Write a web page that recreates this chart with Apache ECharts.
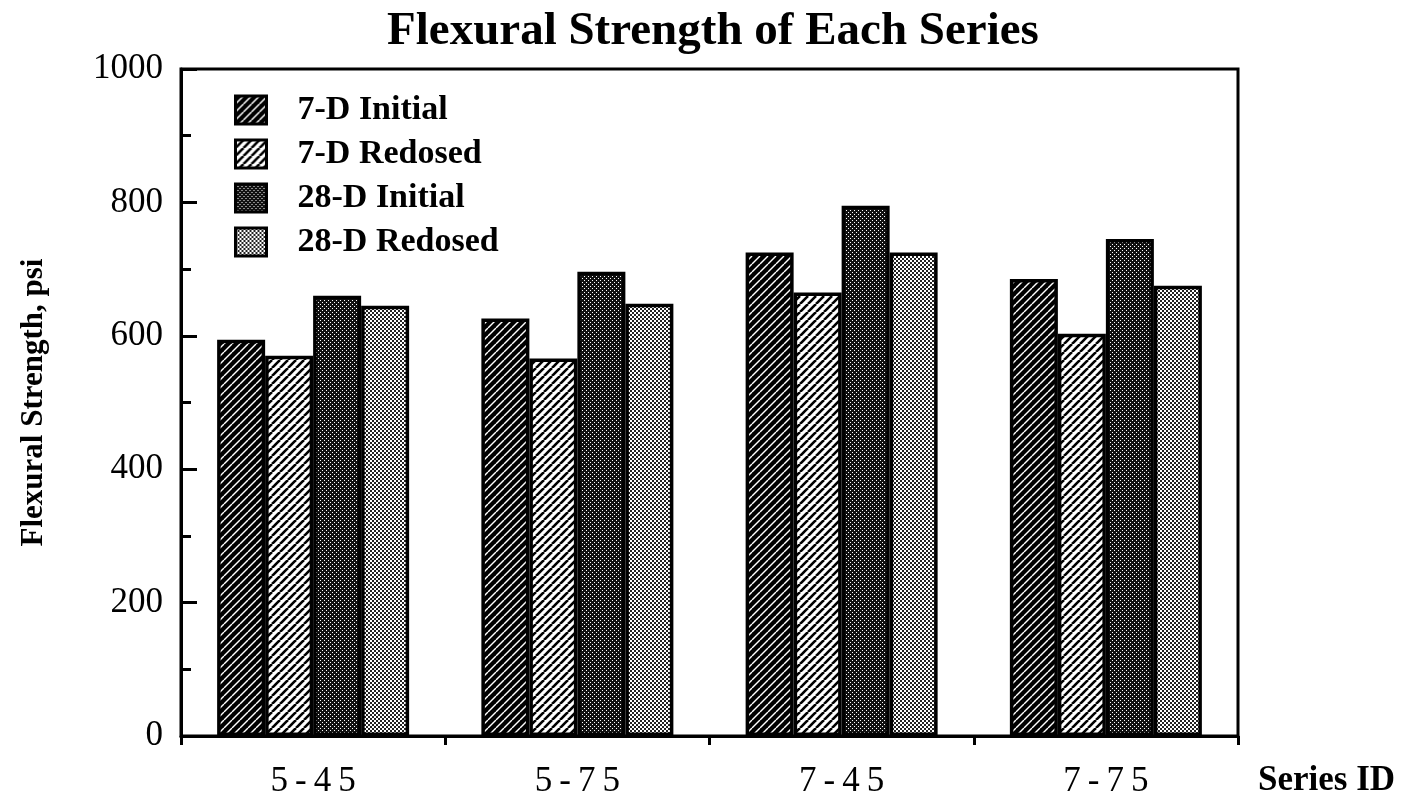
<!DOCTYPE html>
<html>
<head>
<meta charset="utf-8">
<script src="https://cdn.jsdelivr.net/npm/echarts@6/dist/echarts.min.js"></script>
<style>
  html, body { margin: 0; padding: 0; background: #fff; }
  #flexural-chart { width: 1405px; height: 799px; }
</style>
</head>
<body>
<div id="flexural-chart"></div>
<script>
// data
const categories = ['5-45', '5-75', '7-45', '7-75'];
const seriesNames = ['7-D Initial', '7-D Redosed', '28-D Initial', '28-D Redosed'];
const initial7 = [594, 626, 725, 685];
const redosed7 = [570, 566, 665, 603];
const initial28 = [660, 696, 795, 745];
const redosed28 = [645, 648, 725, 675];
const yTicks = [0, 200, 400, 600, 800, 1000];

const FONT = '"Liberation Serif", "DejaVu Serif", serif';

// hatch / halftone fills like the old print
function makeTile(size, draw) {
  const c = document.createElement('canvas');
  c.width = size;
  c.height = size;
  draw(c.getContext('2d'), size);
  return { image: c, repeat: 'repeat' };
}

function hatch(bg, fg, lw) {
  return makeTile(8, (ctx, s) => {
    ctx.fillStyle = bg;
    ctx.fillRect(0, 0, s, s);
    ctx.strokeStyle = fg;
    ctx.lineWidth = lw;
    for (let k = -1; k <= 1; k++) {
      ctx.beginPath();
      ctx.moveTo(k * s, s);
      ctx.lineTo(k * s + s, 0);
      ctx.stroke();
    }
  });
}

const fills = [
  hatch('#000', '#fff', 1.4),
  hatch('#fff', '#000', 2.6),
  makeTile(4, (ctx, s) => {
    ctx.fillStyle = '#111';
    ctx.fillRect(0, 0, s, s);
    ctx.fillStyle = '#fff';
    ctx.fillRect(0, 0, 1, 1);
    ctx.fillRect(2, 2, 1, 1);
  }),
  makeTile(4, (ctx, s) => {
    ctx.fillStyle = '#fff';
    ctx.fillRect(0, 0, s, s);
    ctx.fillStyle = '#222';
    ctx.fillRect(0, 0, 2, 2);
    ctx.fillRect(2, 2, 2, 2);
  })
];

const values = [initial7, redosed7, initial28, redosed28];

const chart = echarts.init(document.getElementById('flexural-chart'), null, { renderer: 'canvas' });

const option = {
  backgroundColor: '#fff',
  animation: false,
  title: {
    text: 'Flexural Strength of Each Series',
    left: 382,
    top: 3,
    textStyle: { fontFamily: FONT, fontWeight: 'bold', fontSize: 47, color: '#000' }
  },
  legend: {
    orient: 'vertical',
    left: 229,
    top: 88,
    itemWidth: 31,
    itemHeight: 28,
    itemGap: 10,
    icon: 'rect',
    data: seriesNames,
    itemStyle: { borderColor: '#000', borderWidth: 3 },
    textStyle: {
      fontFamily: FONT, fontWeight: 'bold', fontSize: 34, color: '#000',
      padding: [0, 0, 0, 26]
    }
  },
  grid: {
    left: 181,
    right: 167,
    top: 69,
    bottom: 63,
    show: true,
    borderColor: '#000',
    borderWidth: 3,
    containLabel: false
  },
  xAxis: {
    type: 'category',
    data: categories,
    name: 'Series ID',
    nameLocation: 'end',
    nameGap: 20,
    nameTextStyle: {
      fontFamily: FONT, fontWeight: 'bold', fontSize: 35, color: '#000',
      align: 'left', verticalAlign: 'top', padding: [27, 0, 0, 0]
    },
    axisLine: { lineStyle: { color: '#000', width: 3 } },
    axisTick: { show: true, interval: 0, length: 9, lineStyle: { color: '#000', width: 3 } },
    axisLabel: {
      margin: 28,
      fontFamily: FONT,
      fontSize: 35,
      color: '#000',
      formatter: (v) => v.split('').join('\u2009')
    },
    splitLine: { show: false }
  },
  yAxis: {
    type: 'value',
    min: yTicks[0],
    max: yTicks[yTicks.length - 1],
    interval: 200,
    name: 'Flexural Strength, psi',
    nameLocation: 'middle',
    nameGap: 132,
    nameTextStyle: { fontFamily: FONT, fontWeight: 'bold', fontSize: 31, color: '#000' },
    axisLine: { show: true, lineStyle: { color: '#000', width: 3 } },
    axisTick: { show: true, inside: true, length: 16, lineStyle: { color: '#000', width: 3 } },
    minorTick: { show: true, splitNumber: 2, length: 10, lineStyle: { color: '#000', width: 3 } },
    axisLabel: {
      margin: 18, fontFamily: FONT, fontSize: 35, color: '#000',
      formatter: (v) => String(v)
    },
    splitLine: { show: false }
  },
  series: seriesNames.map((name, i) => ({
    name: name,
    type: 'bar',
    data: values[i],
    barWidth: 48,
    barGap: '0%',
    itemStyle: { color: fills[i], borderColor: '#000', borderWidth: 3.5 }
  }))
};

chart.setOption(option);
</script>
</body>
</html>
